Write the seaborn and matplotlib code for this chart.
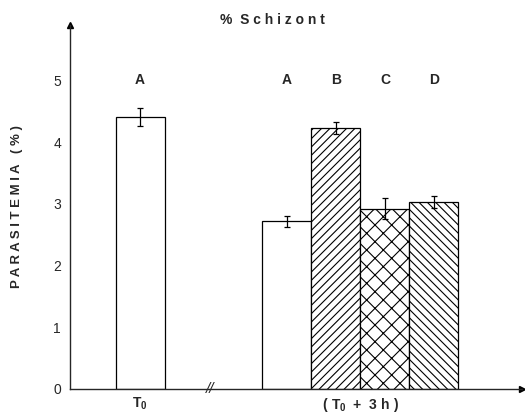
import numpy as np
import pandas as pd
import matplotlib
matplotlib.use('Agg')
import matplotlib.pyplot as plt
import seaborn as sns

sns.set_style('white')
plt.rcParams['font.family'] = ['Liberation Sans', 'DejaVu Sans']
plt.rcParams['mathtext.fontset'] = 'custom'
plt.rcParams['mathtext.rm'] = 'Liberation Sans'
plt.rcParams['mathtext.bf'] = 'Liberation Sans:bold'
plt.rcParams['hatch.linewidth'] = 0.8

# ---- data ----
groups = ['T0_A', 'gap1', 'gap2', 'A', 'B', 'C', 'D']
bar_groups = ['T0_A', 'A', 'B', 'C', 'D']
letters = ['A', 'A', 'B', 'C', 'D']
parasitemia = [4.41, 2.72, 4.23, 2.92, 3.03]
sem = [0.15, 0.09, 0.10, 0.17, 0.09]
hatches = ['', '', '////', 'xx', '\\\\\\\\']

df = pd.DataFrame({'group': bar_groups, 'parasitemia': parasitemia})

fig = plt.figure(figsize=(5.25, 4.19), dpi=100)
ax = fig.add_axes([0.1333, 0.0716, 0.861, 0.869])

sns.barplot(data=df, x='group', y='parasitemia', order=groups,
            color='white', edgecolor='black', linewidth=0.9,
            width=1.0, errorbar=None, ax=ax)

bars = [p for p in ax.patches if p.get_height() > 0]
for b, h in zip(bars, hatches):
    b.set_hatch(h)
    b.set_facecolor('white')

xs = [b.get_x() + b.get_width() / 2 for b in bars]
ax.errorbar(xs, parasitemia, yerr=sem, fmt='none', ecolor='black',
            elinewidth=0.9, capsize=2.5, capthick=0.9)

for x, lab in zip(xs, letters):
    ax.text(x, 5.0, lab, ha='center', va='center', fontsize=10,
            fontweight='bold')

ax.set_xlim(-1.43, 7.8)
ax.set_ylim(0, 5.9)

# axes with arrows
sns.despine(ax=ax)
ax.spines['left'].set_linewidth(1.0)
ax.spines['bottom'].set_linewidth(1.0)
ax.plot(1, 0, '>k', ms=5, transform=ax.transAxes, clip_on=False)
ax.plot(0, 1, '^k', ms=5, transform=ax.transAxes, clip_on=False)

ax.set_yticks([0, 1, 2, 3, 4, 5])
ax.set_yticklabels(['0', '1', '2', '3', '4', '5'], fontsize=10)
ax.tick_params(axis='y', direction='inout', length=7, width=1.0, pad=3)
ax.tick_params(axis='x', length=0, pad=5)
ax.set_xticks([0, 4.5])
ax.set_xticklabels([r'$\mathbf{T_0}$', r'$\mathbf{(\ T_0\ +\ 3\ h\ )}$'],
                   fontsize=10)
ax.set_xlabel('')

# axis break mark
ax.text(1.43, 0, '//', ha='center', va='center', fontsize=11,
        fontstyle='italic', clip_on=False)

ax.set_ylabel('P A R A S I T E M I A   ( % )', fontsize=9.5,
              fontweight='bold')
ax.yaxis.set_label_coords(-0.105, 0.5)
fig.text(0.518, 0.952, '%  S c h i z o n t', ha='center', va='center',
         fontsize=10, fontweight='bold')

fig.savefig('out.png', dpi=100)
